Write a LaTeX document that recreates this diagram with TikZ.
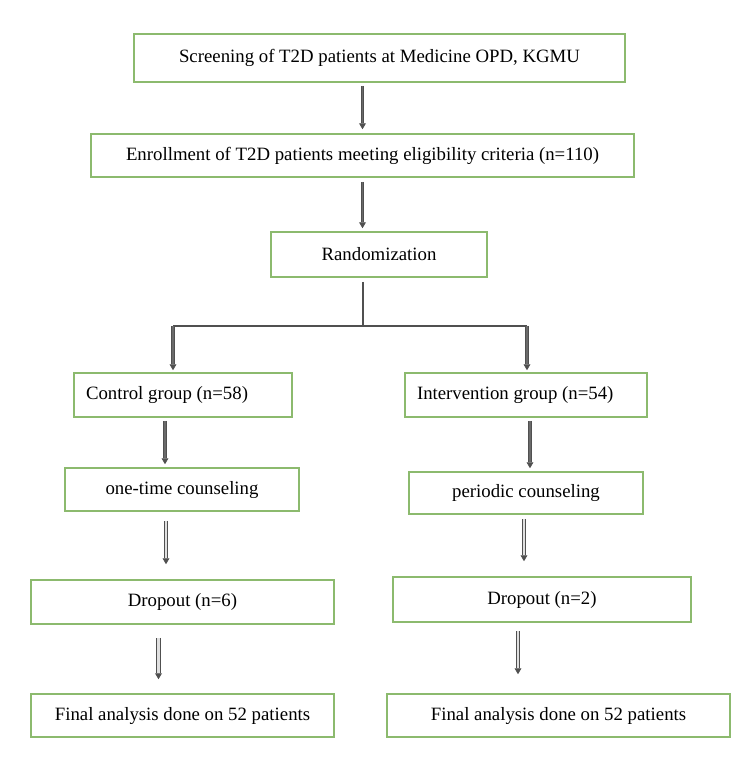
\documentclass[tikz,border=0pt]{standalone}
\usepackage{fontspec}
\setmainfont{Liberation Serif}
\usepackage{xcolor}
\usetikzlibrary{arrows.meta, positioning, calc}
\definecolor{boxgreen}{RGB}{140,186,110}
\definecolor{arrgray}{RGB}{80,80,80}
\newcommand{\lefttext}[2]{\makebox[#1][l]{#2}}

\begin{document}
\begin{tikzpicture}[
		x=0.5pt, y=-0.5pt,
		font=\fontsize{9.4}{11}\selectfont,
		box/.style={draw=boxgreen, line width=0.75pt, inner sep=0pt, minimum height=21.5pt},
		arr/.style={draw=arrgray, line width=0.45pt, double=arrgray!85, double distance=0.9pt,
			-{Triangle[length=3pt, width=3.4pt]}},
		harr/.style={arr, double=black!12, double distance=1.2pt},
		branch/.style={draw=arrgray, line width=1pt}
		]
		\useasboundingbox (0,0) rectangle (750,778);
		
		% Trunk
		\node[box, minimum width=245.5pt, minimum height=24pt] (scr) at (379.5,58) {Screening of T2D patients at Medicine OPD, KGMU};
		\node[box, minimum width=271.5pt] (enr) at (362.5,155.5) {Enrollment of T2D patients meeting eligibility criteria (n=110)};
		\node[box, minimum width=108pt, minimum height=22.5pt] (rnd) at (379,254.5) {Randomization};
		
		% Control arm
		\node[box, minimum width=109pt, minimum height=22pt] (ctl) at (183,395) {\lefttext{97pt}{Control group (n=58)}};
		\node[box, minimum width=117pt] (one) at (182,489.5) {one-time counseling};
		\node[box, minimum width=151.5pt, minimum height=22pt] (dl) at (182.5,602) {Dropout (n=6)};
		\node[box, minimum width=151.5pt] (fl) at (182.5,715.5) {Final analysis done on 52 patients};
		
		% Intervention arm
		\node[box, minimum width=121pt, minimum height=22pt] (itv) at (526,395) {\lefttext{109pt}{Intervention group (n=54)}};
		\node[box, minimum width=117pt, minimum height=21pt] (per) at (526,493) {periodic counseling};
		\node[box, minimum width=149pt, minimum height=22.5pt] (dr) at (542,599.5) {Dropout (n=2)};
		\node[box, minimum width=171.5pt] (fr) at (558.5,715.5) {Final analysis done on 52 patients};
		
		% Trunk arrows
		\draw[arr, shorten <=1.5pt, shorten >=2pt] (enr.north |- scr.south) -- (enr.north);
		\draw[arr, shorten <=2pt, shorten >=1.5pt] (enr.south) -- (enr.south |- rnd.north);
		
		% Split
		\coordinate (split) at ($(enr.south |- rnd.south)+(0,48)$);
		\coordinate (sl) at ($(split -| ctl.south)+(-10,0)$);
		\coordinate (sr) at ($(split -| itv.south)+(1,0)$);
		\draw[branch, shorten <=2pt] (enr.south |- rnd.south) -- (split);
		\draw[branch] (sl) -- (split) -- (sr);
		\draw[arr, shorten >=1pt] (sl) -- (sl |- ctl.north);
		\draw[arr, shorten >=1pt] (sr) -- (sr |- itv.north);
		
		% Control arrows
		\draw[arr, shorten <=1.5pt, shorten >=1.5pt] ([xshift=-9]ctl.south) -- ([xshift=-9]ctl.south |- one.north);
		\draw[harr, shorten <=4.5pt, shorten >=7.5pt] ([xshift=-8]one.south) -- ([xshift=-8]one.south |- dl.north);
		\draw[harr, shorten <=6.5pt, shorten >=7pt] ([xshift=-12]dl.south) -- ([xshift=-12]dl.south |- fl.north);
		
		% Intervention arrows
		\draw[arr, shorten <=1.5pt, shorten >=1.5pt] ([xshift=2]itv.south) -- ([xshift=2]itv.south |- per.north);
		\draw[harr, shorten <=2pt, shorten >=7.5pt] ([xshift=-1]per.south) -- ([xshift=-1]per.south |- dr.north);
		\draw[harr, shorten <=4pt, shorten >=9.5pt] ([xshift=-12]dr.south) -- ([xshift=-12]dr.south |- fr.north);
		
	\end{tikzpicture}
\end{document}
